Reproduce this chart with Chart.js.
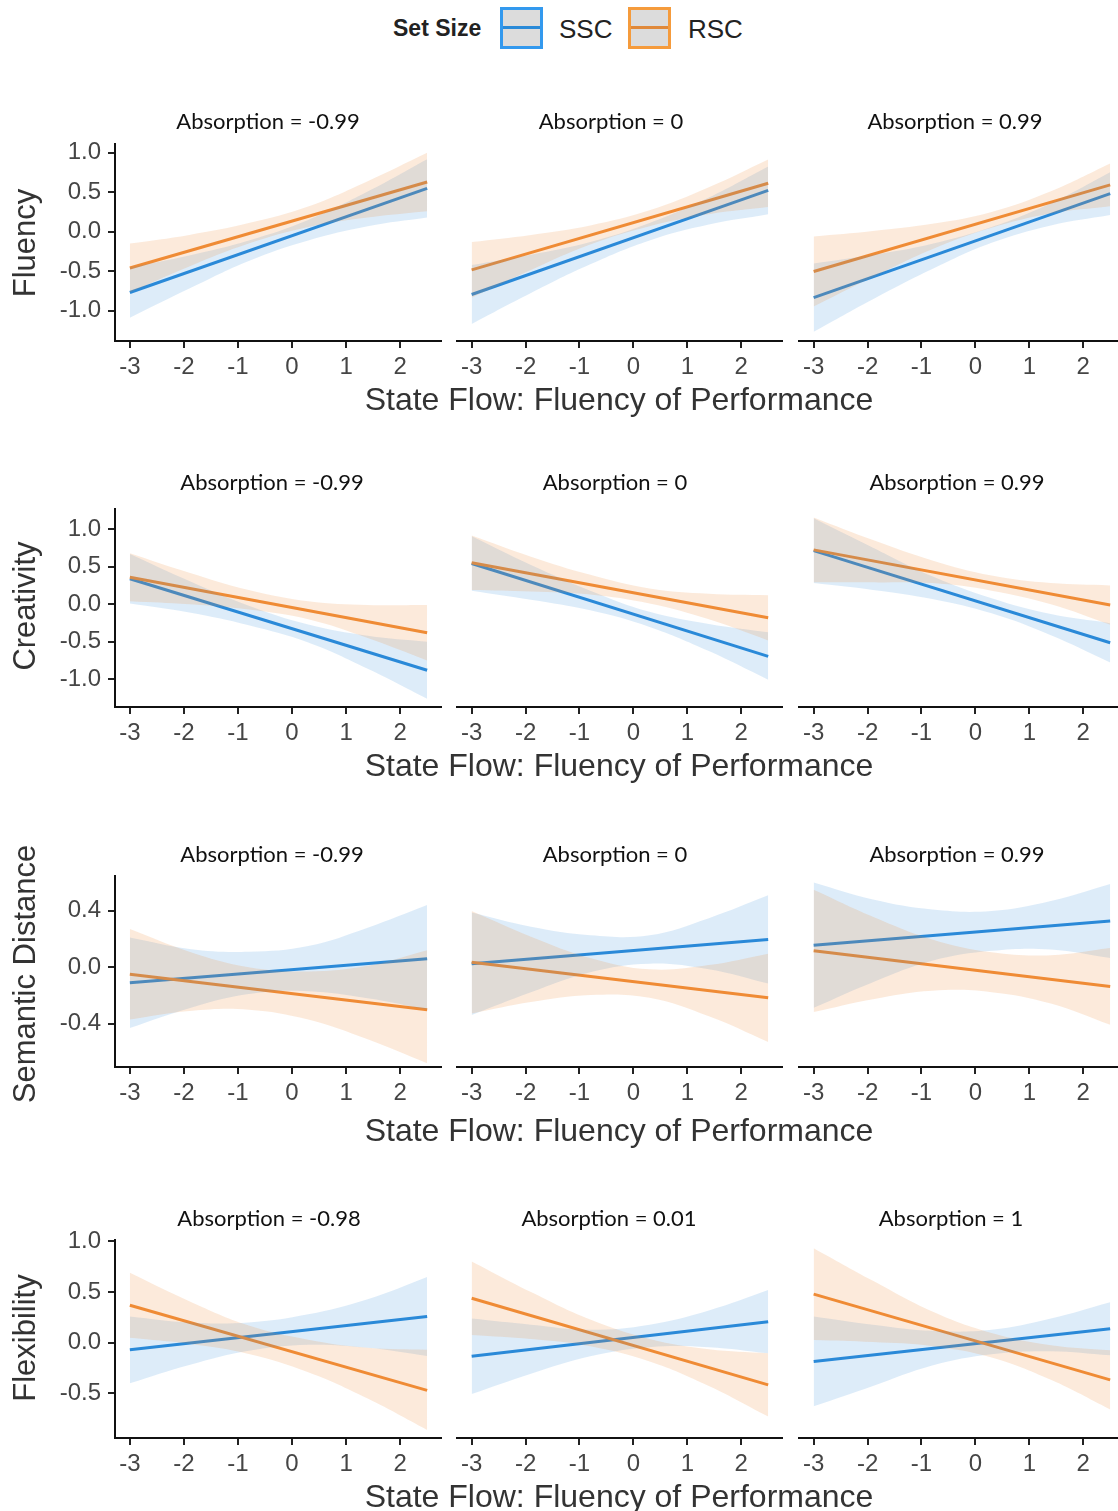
<!DOCTYPE html>
<html>
<head>
<meta charset="utf-8">
<script src="https://cdn.jsdelivr.net/npm/chart.js@4.4.1/dist/chart.umd.min.js"></script>
<style>
  body { margin: 0; width: 1118px; height: 1511px; overflow: hidden; background: #fff; position: relative;
         font-family: "Liberation Sans", Arial, sans-serif; }
  canvas { position: absolute; }
  .t { position: absolute; white-space: nowrap; transform: translate(-50%, -50%); z-index: 2; }
  .strip { font-family: Lato, "Open Sans", sans-serif; font-size: 22px; color: #111; }
  .xtitle { font-size: 32px; color: #333; }
  .ytitle { font-size: 31px; color: #333; transform: translate(-50%, -50%) rotate(-90deg); }
  .lg { position: absolute; white-space: nowrap; transform: translateY(-50%); color: #222; }
  .key { position: absolute; top: 7px; width: 37px; height: 36px; background: #dcdcdc; border: 3px solid; }
  .key span { position: absolute; left: 0; right: 0; top: 16px; height: 3px; }
</style>
</head>
<body>
<div class="lg" style="left:393px; top:28px; font-size:23px; font-weight:bold;">Set Size</div>
<div class="key" style="left:500px; border-color:#3399ee;"><span style="background:#2a8ad8;"></span></div>
<div class="lg" style="left:559px; top:29px; font-size:26px;">SSC</div>
<div class="key" style="left:628px; border-color:#f59b3c;"><span style="background:#e0893a;"></span></div>
<div class="lg" style="left:688px; top:29px; font-size:26px;">RSC</div>

<script>
// x positions
const xTicks = [-3, -2, -1, 0, 1, 2];
const lineX = [-3, 2.5];
const bandX = [-3, -1.9, -0.8, 0.3, 1.4, 2.5];

const groups = ['SSC', 'RSC'];
const outcomes = ['Fluency', 'Creativity', 'Semantic Distance', 'Flexibility'];
const xTitle = 'State Flow: Fluency of Performance';
const absorptionTitles = [
    ['Absorption = -0.99', 'Absorption = 0', 'Absorption = 0.99'],
    ['Absorption = -0.99', 'Absorption = 0', 'Absorption = 0.99'],
    ['Absorption = -0.99', 'Absorption = 0', 'Absorption = 0.99'],
    ['Absorption = -0.98', 'Absorption = 0.01', 'Absorption = 1']
];

const fluencyTicks = [-1, -0.5, 0, 0.5, 1];
const creativityTicks = [-1, -0.5, 0, 0.5, 1];
const semanticTicks = [-0.4, 0, 0.4];
const flexibilityTicks = [-0.5, 0, 0.5, 1];

// Fluency (line endpoints at x=-3 and x=2.5, bands at bandX)
const fluencySSC = [[-0.77, 0.55], [-0.80, 0.51], [-0.84, 0.47]];
const fluencyRSC = [[-0.46, 0.63], [-0.49, 0.60], [-0.51, 0.58]];
const fluencySSCLow = [[-1.09, -0.72, -0.37, -0.11, 0.07, 0.18], [-1.17, -0.78, -0.42, -0.12, 0.08, 0.21], [-1.27, -0.86, -0.48, -0.15, 0.07, 0.20]];
const fluencySSCHigh = [[-0.45, -0.30, -0.11, 0.15, 0.51, 0.92], [-0.43, -0.30, -0.14, 0.10, 0.42, 0.81], [-0.41, -0.30, -0.16, 0.05, 0.35, 0.74]];
const fluencyRSCLow = [[-0.77, -0.44, -0.15, 0.06, 0.18, 0.26], [-0.84, -0.49, -0.17, 0.06, 0.21, 0.30], [-0.95, -0.58, -0.23, 0.04, 0.22, 0.31]];
const fluencyRSCHigh = [[-0.15, -0.04, 0.11, 0.32, 0.64, 1.00], [-0.14, -0.05, 0.07, 0.26, 0.55, 0.90], [-0.07, 0.00, 0.09, 0.24, 0.50, 0.85]];

// Creativity
const creativitySSC = [[0.34, -0.88], [0.53, -0.70], [0.70, -0.52]];
const creativityRSC = [[0.36, -0.38], [0.54, -0.19], [0.71, -0.02]];
const creativitySSCLow = [[0.01, -0.11, -0.28, -0.51, -0.86, -1.26], [0.17, 0.05, -0.09, -0.31, -0.63, -1.01], [0.27, 0.18, 0.06, -0.13, -0.42, -0.78]];
const creativitySSCHigh = [[0.67, 0.31, -0.02, -0.27, -0.42, -0.50], [0.89, 0.51, 0.17, -0.11, -0.27, -0.38], [1.13, 0.74, 0.36, 0.07, -0.14, -0.26]];
const creativityRSCLow = [[0.04, 0.00, -0.07, -0.20, -0.45, -0.75], [0.18, 0.16, 0.12, 0.00, -0.21, -0.49], [0.28, 0.28, 0.27, 0.17, -0.01, -0.28]];
const creativityRSCHigh = [[0.68, 0.42, 0.19, 0.04, -0.01, -0.01], [0.90, 0.62, 0.38, 0.20, 0.13, 0.11], [1.14, 0.84, 0.57, 0.37, 0.27, 0.24]];

// Semantic Distance
const semanticSSC = [[-0.11, 0.06], [0.02, 0.19], [0.15, 0.32]];
const semanticRSC = [[-0.05, -0.30], [0.03, -0.22], [0.11, -0.14]];
const semanticSSCLow = [[-0.43, -0.29, -0.19, -0.17, -0.22, -0.30], [-0.34, -0.18, -0.04, 0.02, -0.02, -0.12], [-0.29, -0.11, 0.04, 0.11, 0.12, 0.06]];
const semanticSSCHigh = [[0.21, 0.13, 0.11, 0.15, 0.28, 0.44], [0.38, 0.28, 0.22, 0.22, 0.34, 0.50], [0.59, 0.47, 0.40, 0.39, 0.46, 0.58]];
const semanticRSCLow = [[-0.37, -0.31, -0.30, -0.37, -0.51, -0.68], [-0.33, -0.25, -0.20, -0.22, -0.35, -0.53], [-0.32, -0.23, -0.17, -0.18, -0.26, -0.41]];
const semanticRSCHigh = [[0.27, 0.11, 0.00, -0.03, 0.01, 0.12], [0.39, 0.21, 0.06, -0.02, 0.01, 0.09], [0.54, 0.35, 0.19, 0.10, 0.08, 0.13]];

// Flexibility
const flexibilitySSC = [[-0.07, 0.26], [-0.14, 0.20], [-0.19, 0.13]];
const flexibilityRSC = [[0.37, -0.47], [0.43, -0.42], [0.47, -0.37]];
const flexibilitySSCLow = [[-0.40, -0.22, -0.08, -0.02, -0.05, -0.13], [-0.51, -0.31, -0.14, -0.05, -0.05, -0.11], [-0.63, -0.43, -0.23, -0.12, -0.09, -0.13]];
const flexibilitySSCHigh = [[0.26, 0.20, 0.20, 0.28, 0.43, 0.65], [0.23, 0.17, 0.12, 0.17, 0.31, 0.51], [0.25, 0.17, 0.11, 0.12, 0.23, 0.39]];
const flexibilityRSCLow = [[0.05, -0.01, -0.11, -0.29, -0.55, -0.86], [0.07, 0.03, -0.04, -0.19, -0.43, -0.73], [0.02, 0.00, -0.04, -0.15, -0.37, -0.66]];
const flexibilityRSCHigh = [[0.69, 0.41, 0.17, 0.03, -0.05, -0.07], [0.79, 0.49, 0.22, 0.03, -0.07, -0.11], [0.92, 0.60, 0.30, 0.09, -0.03, -0.08]];

const sscColor = '#2a8ad8';
const rscColor = '#f08c35';
const sscBand = 'rgba(42, 138, 216, 0.16)';
const rscBand = 'rgba(240, 140, 53, 0.18)';
const FONT = '"Liberation Sans", Arial, sans-serif';

// layout of the 4 rows (pixels) and axis ranges
const rows = [
    { ssc: fluencySSC, rsc: fluencyRSC, sscLow: fluencySSCLow, sscHigh: fluencySSCHigh, rscLow: fluencyRSCLow, rscHigh: fluencyRSCHigh,
      ticks: fluencyTicks, yMin: -1.385, yMax: 1.107, top: 143, bottom: 341, stripY: 120, stripX: [268, 611, 955], xTitleY: 399, yTitleY: 243 },
    { ssc: creativitySSC, rsc: creativityRSC, sscLow: creativitySSCLow, sscHigh: creativitySSCHigh, rscLow: creativityRSCLow, rscHigh: creativityRSCHigh,
      ticks: creativityTicks, yMin: -1.371, yMax: 1.265, top: 508, bottom: 707, stripY: 481, stripX: [272, 615, 957], xTitleY: 765, yTitleY: 606 },
    { ssc: semanticSSC, rsc: semanticRSC, sscLow: semanticSSCLow, sscHigh: semanticSSCHigh, rscLow: semanticRSCLow, rscHigh: semanticRSCHigh,
      ticks: semanticTicks, yMin: -0.706, yMax: 0.643, top: 875, bottom: 1067, stripY: 853, stripX: [272, 615, 957], xTitleY: 1130, yTitleY: 974 },
    { ssc: flexibilitySSC, rsc: flexibilityRSC, sscLow: flexibilitySSCLow, sscHigh: flexibilitySSCHigh, rscLow: flexibilityRSCLow, rscHigh: flexibilityRSCHigh,
      ticks: flexibilityTicks, yMin: -0.94, yMax: 1.01, top: 1239, bottom: 1438, stripY: 1217, stripX: [269, 609, 951], xTitleY: 1496, yTitleY: 1338 }
];

const panelLeft = [0, 456, 798];
const plotW = 327;
const yAxisW = 115;
const padTop = 20;
const xAxisH = 45;

function toPoints(xs, ys) {
    return xs.map((x, i) => ({ x: x, y: ys[i] }));
}

function addText(cls, text, x, y) {
    const d = document.createElement('div');
    d.className = 't ' + cls;
    d.textContent = text;
    d.style.left = x + 'px';
    d.style.top = y + 'px';
    document.body.appendChild(d);
}

function makePanel(r, col) {
    const row = rows[r];
    const hasY = col === 0;
    const canvas = document.createElement('canvas');
    canvas.width = (hasY ? yAxisW : 0) + plotW;
    canvas.height = padTop + (row.bottom - row.top) + xAxisH;
    canvas.style.left = panelLeft[col] + 'px';
    canvas.style.top = (row.top - padTop) + 'px';
    document.body.appendChild(canvas);

    const band = (ys, color, fill, order) => ({
        data: toPoints(bandX, ys), fill: fill, backgroundColor: color, borderColor: 'transparent',
        borderWidth: 0, pointRadius: 0, tension: 0.4, order: order
    });
    const line = (ys, color, order) => ({
        data: toPoints(lineX, ys), fill: false, borderColor: color, borderWidth: 3,
        pointRadius: 0, tension: 0, order: order
    });

    new Chart(canvas.getContext('2d'), {
        type: 'line',
        data: {
            datasets: [
                band(row.sscHigh[col], sscBand, '+1', 2),
                band(row.sscLow[col], sscBand, false, 2),
                band(row.rscHigh[col], rscBand, '+1', 1),
                band(row.rscLow[col], rscBand, false, 1),
                line(row.ssc[col], sscColor, 4),
                line(row.rsc[col], rscColor, 3)
            ]
        },
        options: {
            responsive: false,
            animation: false,
            devicePixelRatio: 1,
            layout: { padding: { top: padTop, left: 0, right: 0, bottom: 0 } },
            plugins: { legend: { display: false }, tooltip: { enabled: false }, filler: { drawTime: 'beforeDatasetDraw' } },
            scales: {
                x: {
                    type: 'linear', min: -3.275, max: 2.775,
                    afterBuildTicks: s => { s.ticks = xTicks.map(v => ({ value: v })); },
                    afterFit: s => { s.height = xAxisH; },
                    ticks: { font: { family: FONT, size: 24 }, color: '#454545', padding: 5, autoSkip: false, maxRotation: 0,
                             callback: v => String(v) },
                    grid: { drawOnChartArea: false, drawTicks: true, tickLength: 7, color: '#222', lineWidth: 2 },
                    border: { display: true, color: '#111', width: 2 }
                },
                y: {
                    display: hasY, min: row.yMin, max: row.yMax,
                    afterBuildTicks: s => { s.ticks = row.ticks.map(v => ({ value: v })); },
                    afterFit: s => { s.width = hasY ? yAxisW : 0; },
                    ticks: { font: { family: FONT, size: 24 }, color: '#454545', padding: 7,
                             callback: v => v.toFixed(1) },
                    grid: { drawOnChartArea: false, drawTicks: true, tickLength: 7, color: '#222', lineWidth: 2 },
                    border: { display: hasY, color: '#111', width: 2 }
                }
            }
        }
    });
}

rows.forEach((row, r) => {
    for (let col = 0; col < 3; col++) {
        makePanel(r, col);
        addText('strip', absorptionTitles[r][col], row.stripX[col], row.stripY);
    }
    addText('xtitle', xTitle, 619, row.xTitleY);
    addText('ytitle', outcomes[r], 25, row.yTitleY);
});
</script>
</body>
</html>
